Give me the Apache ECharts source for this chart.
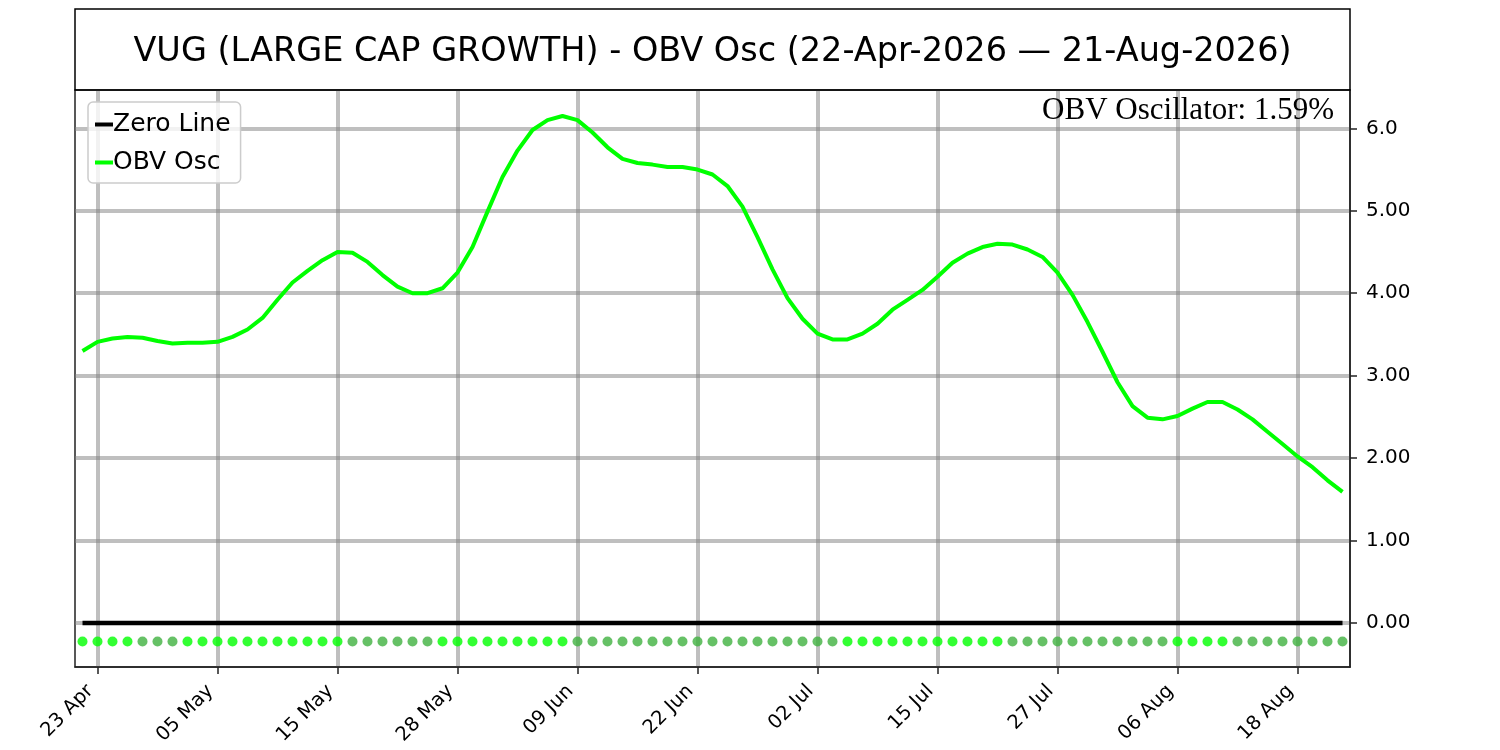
<!DOCTYPE html>
<html>
<head>
<meta charset="utf-8">
<title>VUG OBV Osc</title>
<script src="https://cdn.jsdelivr.net/npm/echarts@6/dist/echarts.min.js"></script>
<style>
  html, body { margin: 0; padding: 0; background: #fff; }
  #chart { width: 1500px; height: 750px; }
</style>
</head>
<body>
<div id="chart"></div>
<script>
// trading days, 22-Apr-2026 .. 21-Aug-2026
var dates = [
  "22 Apr", "23 Apr", "24 Apr", "27 Apr", "28 Apr", "29 Apr", "30 Apr", "01 May", "04 May", "05 May",
  "06 May", "07 May", "08 May", "11 May", "12 May", "13 May", "14 May", "15 May", "18 May", "19 May",
  "20 May", "21 May", "22 May", "26 May", "27 May", "28 May", "29 May", "01 Jun", "02 Jun", "03 Jun",
  "04 Jun", "05 Jun", "08 Jun", "09 Jun", "10 Jun", "11 Jun", "12 Jun", "15 Jun", "16 Jun", "17 Jun",
  "18 Jun", "22 Jun", "23 Jun", "24 Jun", "25 Jun", "26 Jun", "29 Jun", "30 Jun", "01 Jul", "02 Jul",
  "06 Jul", "07 Jul", "08 Jul", "09 Jul", "10 Jul", "13 Jul", "14 Jul", "15 Jul", "16 Jul", "17 Jul",
  "20 Jul", "21 Jul", "22 Jul", "23 Jul", "24 Jul", "27 Jul", "28 Jul", "29 Jul", "30 Jul", "31 Jul",
  "03 Aug", "04 Aug", "05 Aug", "06 Aug", "07 Aug", "10 Aug", "11 Aug", "12 Aug", "13 Aug", "14 Aug",
  "17 Aug", "18 Aug", "19 Aug", "20 Aug", "21 Aug"
];

var obvOsc = [
  3.30, 3.41, 3.45, 3.47, 3.46, 3.42, 3.39, 3.40, 3.40, 3.41,
  3.47, 3.56, 3.70, 3.92, 4.13, 4.27, 4.40, 4.50, 4.49, 4.38,
  4.22, 4.08, 4.00, 4.00, 4.06, 4.25, 4.56, 4.99, 5.41, 5.73,
  5.98, 6.10, 6.15, 6.10, 5.95, 5.77, 5.63, 5.58, 5.56, 5.53,
  5.53, 5.50, 5.44, 5.30, 5.05, 4.68, 4.29, 3.94, 3.69, 3.51,
  3.44, 3.44, 3.51, 3.63, 3.80, 3.92, 4.04, 4.20, 4.37, 4.48,
  4.56, 4.60, 4.59, 4.53, 4.44, 4.25, 3.98, 3.65, 3.29, 2.92,
  2.63, 2.49, 2.47, 2.51, 2.60, 2.68, 2.68, 2.59, 2.47, 2.32,
  2.17, 2.02, 1.89, 1.73, 1.59
];

// 1 = bright dot (rising), 0 = dull dot (falling)
var dotUp = [
  1, 1, 1, 1, 0, 0, 0, 1, 1, 1,
  1, 1, 1, 1, 1, 1, 1, 1, 0, 0,
  0, 0, 0, 0, 1, 1, 1, 1, 1, 1,
  1, 1, 1, 0, 0, 0, 0, 0, 0, 0,
  0, 0, 0, 0, 0, 0, 0, 0, 0, 0,
  0, 1, 1, 1, 1, 1, 1, 1, 1, 1,
  1, 1, 0, 0, 0, 0, 0, 0, 0, 0,
  0, 0, 0, 1, 1, 1, 1, 0, 0, 0,
  0, 0, 0, 0, 0
];

var xTicks = [1, 9, 17, 25, 33, 41, 49, 57, 65, 73, 81];
var yTicks = [0, 1, 2, 3, 4, 5, 6];
var yTickLabels = ["0.00", "1.00", "2.00", "3.00", "4.00", "5.00", "6.0"];
var zeroLevel = 0;
var dotLevel = -0.225;
var lastValue = "1.59%";

var chart = echarts.init(document.getElementById("chart"));

var gridLine = { color: "rgba(128,128,128,0.5)", width: 4 };

var option = {
  backgroundColor: "#ffffff",
  animation: false,
  textStyle: { fontFamily: "DejaVu Sans" },
  grid: {
    left: 75,
    right: 150,
    top: 90,
    bottom: 83,
    show: true,
    borderColor: "#222",
    borderWidth: 1.5
  },
  legend: {
    orient: "vertical",
    left: 88,
    top: 102,
    padding: [10, 10, 8, 7],
    itemGap: 13,
    itemWidth: 18,
    itemHeight: 4,
    icon: "rect",
    backgroundColor: "rgba(255,255,255,0.8)",
    borderColor: "#cccccc",
    borderWidth: 1.5,
    borderRadius: 5,
    textStyle: {
      fontSize: 25,
      color: "#000",
      fontFamily: "DejaVu Sans",
      padding: [0, 0, 0, -5]
    },
    data: ["Zero Line", "OBV Osc"]
  },
  xAxis: {
    type: "value",
    min: -0.5,
    max: dates.length - 0.5,
    axisLine: { show: true, onZero: false, lineStyle: { color: "#222", width: 1.5 } },
    axisTick: {
      show: true,
      inside: false,
      customValues: xTicks,
      length: 7,
      lineStyle: { color: "#222", width: 1.5 }
    },
    axisLabel: {
      customValues: xTicks,
      rotate: 45,
      margin: 14,
      padding: [0, 10, 0, 0],
      fontSize: 19.5,
      color: "#000",
      fontFamily: "DejaVu Sans",
      formatter: function (v) {
        return dates[Math.round(v)];
      }
    },
    splitLine: { show: true, lineStyle: gridLine }
  },
  yAxis: {
    type: "value",
    position: "right",
    min: -0.534,
    max: 6.465,
    axisLine: { show: true, onZero: false, lineStyle: { color: "#222", width: 1.5 } },
    axisTick: {
      show: true,
      inside: false,
      customValues: yTicks,
      length: 7,
      lineStyle: { color: "#222", width: 1.5 }
    },
    axisLabel: {
      customValues: yTicks,
      inside: false,
      margin: 16,
      fontSize: 20,
      color: "#000",
      fontFamily: "DejaVu Sans",
      formatter: function (v) {
        var k = yTicks.indexOf(Math.round(v));
        return k >= 0 ? yTickLabels[k] : "";
      }
    },
    splitLine: { show: true, lineStyle: gridLine }
  },
  graphic: [
    {
      type: "rect",
      shape: { x: 75, y: 9, width: 1275, height: 81 },
      style: { fill: "none", stroke: "#000", lineWidth: 1.5 },
      z: 10
    },
    {
      type: "text",
      x: 712.5,
      y: 52,
      style: {
        text: "VUG (LARGE CAP GROWTH) - OBV Osc (22-Apr-2026 \u2014 21-Aug-2026)",
        font: "33.5px 'DejaVu Sans'",
        fill: "#000",
        textAlign: "center",
        textVerticalAlign: "middle"
      },
      z: 10
    },
    {
      type: "text",
      x: 1334,
      y: 111,
      style: {
        text: "OBV Oscillator: " + lastValue,
        font: "31px 'Liberation Serif'",
        fill: "#000",
        textAlign: "right",
        textVerticalAlign: "middle"
      },
      z: 10
    }
  ],
  series: [
    {
      name: "Zero Line",
      type: "line",
      data: dates.map(function (d, i) { return [i, zeroLevel]; }),
      showSymbol: false,
      symbol: "none",
      lineStyle: { color: "#000", width: 4.5 },
      itemStyle: { color: "#000" },
      z: 3
    },
    {
      name: "Direction",
      type: "scatter",
      data: dates.map(function (d, i) {
        return {
          value: [i, dotLevel],
          itemStyle: { color: dotUp[i] ? "#00ff00" : "#40b240" }
        };
      }),
      symbolSize: 10,
      z: 3
    },
    {
      name: "OBV Osc",
      type: "line",
      data: dates.map(function (d, i) { return [i, obvOsc[i]]; }),
      showSymbol: false,
      symbol: "none",
      lineStyle: { color: "#00ff00", width: 4 },
      itemStyle: { color: "#00ff00" },
      z: 4
    }
  ]
};

chart.setOption(option);
</script>
</body>
</html>
